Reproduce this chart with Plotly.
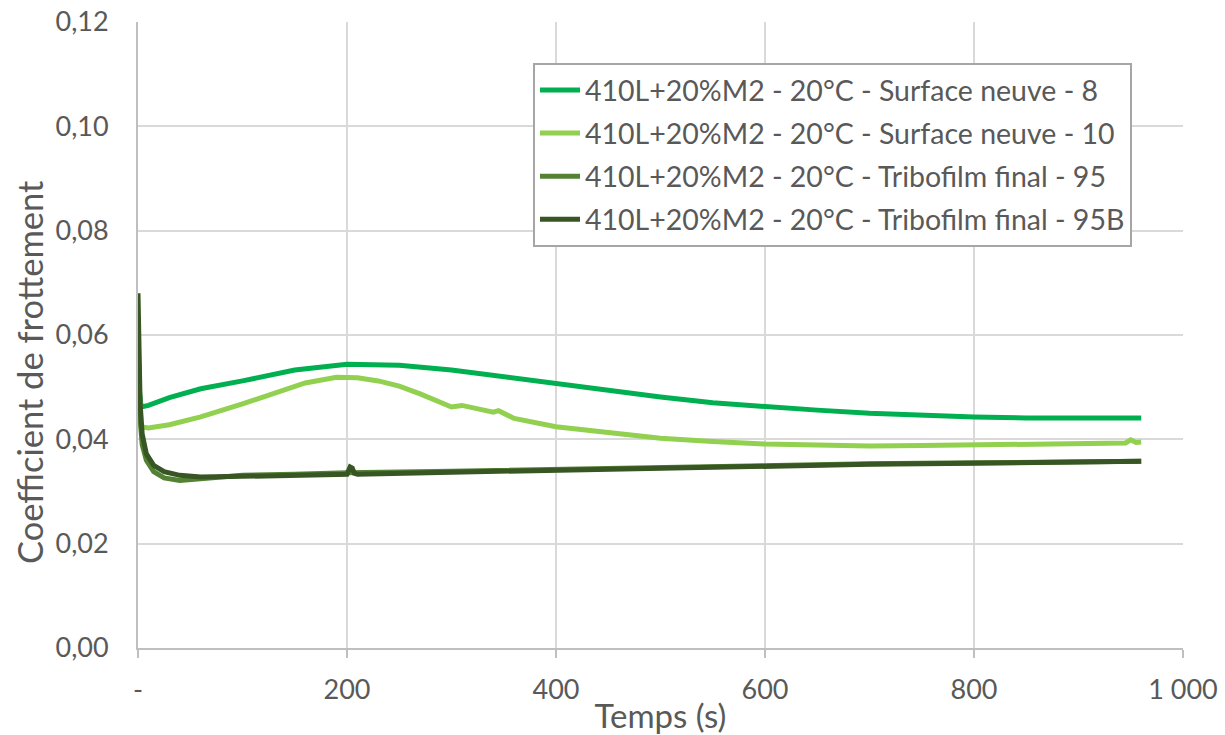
import plotly.graph_objects as go

# ---- data ----
t_s8 = [0, 1, 3, 10, 30, 60, 100, 150, 200, 250, 300, 350, 400, 450, 500, 550,
        600, 650, 700, 750, 800, 850, 900, 960]
cof_s8 = [0.060, 0.050, 0.0462, 0.0465, 0.0480, 0.0497, 0.0512, 0.0533, 0.0544,
          0.0542, 0.0533, 0.0520, 0.0505, 0.0493, 0.0481, 0.0470, 0.0462, 0.0456,
          0.0450, 0.0446, 0.0443, 0.0441, 0.0440, 0.0441]

t_s10 = [0, 1, 3, 10, 30, 60, 100, 130, 160, 190, 210, 230, 250, 270, 290, 300,
         310, 320, 340, 345, 360, 400, 450, 500, 550, 600, 650, 700, 750, 800,
         850, 900, 945, 950, 955, 960]
cof_s10 = [0.064, 0.050, 0.0424, 0.0422, 0.0428, 0.0443, 0.0468, 0.0487, 0.0508,
           0.0519, 0.0518, 0.0512, 0.0502, 0.0487, 0.0470, 0.0462, 0.0465, 0.0460,
           0.0452, 0.0455, 0.0440, 0.0424, 0.0412, 0.0402, 0.0396, 0.0391, 0.0389,
           0.0387, 0.0388, 0.0389, 0.0390, 0.0391, 0.0393, 0.0399, 0.0394, 0.0395]

t_95 = [0, 1, 2, 4, 8, 15, 25, 40, 60, 80, 100, 150, 200, 300, 400, 500, 600,
        700, 800, 900, 960]
cof_95 = [0.060, 0.050, 0.044, 0.039, 0.0360, 0.0338, 0.0326, 0.0321, 0.0324,
          0.0329, 0.0331, 0.0333, 0.0336, 0.0339, 0.0343, 0.0346, 0.0350, 0.0353,
          0.0355, 0.0357, 0.0358]

t_95b = [0, 1, 2, 4, 8, 15, 25, 40, 60, 100, 150, 200, 203, 205, 207, 210, 300,
         400, 500, 600, 700, 800, 900, 960]
cof_95b = [0.068, 0.055, 0.047, 0.041, 0.0372, 0.0350, 0.0338, 0.0331, 0.0328,
           0.0329, 0.0331, 0.0333, 0.0347, 0.0345, 0.0335, 0.0333, 0.0337, 0.0341,
           0.0345, 0.0349, 0.0352, 0.0354, 0.0356, 0.0358]

names = ["410L+20%M2 - 20°C - Surface neuve - 8",
         "410L+20%M2 - 20°C - Surface neuve - 10",
         "410L+20%M2 - 20°C - Tribofilm final - 95",
         "410L+20%M2 - 20°C - Tribofilm final - 95B"]
colors = ["#00B050", "#92D050", "#548235", "#375623"]

x_tickvals = [0, 200, 400, 600, 800, 1000]
x_ticktext = ["-", "200", "400", "600", "800", "1 000"]
y_tickvals = [0, 0.02, 0.04, 0.06, 0.08, 0.10, 0.12]
y_ticktext = ["0,00", "0,02", "0,04", "0,06", "0,08", "0,10", "0,12"]
x_title = "Temps (s)"
y_title = "Coefficient de frottement"

FONT = "Lato"
TXT = "#595959"

fig = go.Figure()
series = [(t_s8, cof_s8), (t_s10, cof_s10), (t_95, cof_95), (t_95b, cof_95b)]
for i, ((tx, ty), nm, col) in enumerate(zip(series, names, colors)):
    fig.add_trace(go.Scatter(x=tx, y=ty, mode="lines", name=nm,
                             legendgroup=f"g{i}",
                             line=dict(color=col, width=5)))

fig.update_layout(
    width=1225, height=735,
    margin=dict(l=138, r=42, t=22, b=87, autoexpand=False),
    paper_bgcolor="white", plot_bgcolor="white",
    font=dict(family=FONT, color=TXT, size=26),
    showlegend=True,
    legend=dict(x=0.378, y=0.9345, xanchor="left", yanchor="top",
                bordercolor="#A6A6A6", borderwidth=2, bgcolor="white",
                font=dict(size=28.5, color=TXT, family=FONT),
                tracegroupgap=3, itemwidth=40),
    xaxis=dict(range=[0, 1000], tickvals=x_tickvals, ticktext=x_ticktext,
               showgrid=True, gridcolor="#D9D9D9", gridwidth=2,
               showline=True, linecolor="#BFBFBF", linewidth=2,
               ticks="outside", ticklen=8, tickcolor="#BFBFBF", tickwidth=2,
               zeroline=False, ticklabelstandoff=9, automargin=False,
               tickfont=dict(size=27),
               title=dict(text=x_title, standoff=0,
                          font=dict(size=33, color=TXT, family=FONT))),
    yaxis=dict(range=[0, 0.12], tickvals=y_tickvals, ticktext=y_ticktext,
               showgrid=True, gridcolor="#D9D9D9", gridwidth=2,
               showline=True, linecolor="#BFBFBF", linewidth=2,
               ticks="", zeroline=False, ticklabelstandoff=22, automargin=False,
               tickfont=dict(size=27)),
    annotations=[dict(text=y_title, textangle=-90, showarrow=False,
                      xref="paper", yref="paper", x=-0.1033, y=0.441,
                      xanchor="center", yanchor="middle",
                      font=dict(size=34.5, color=TXT, family=FONT))],
)

fig.write_html("out.html", config={"displayModeBar": False})

# remove the default page margin so the figure sits exactly in the window
with open("out.html", encoding="utf-8") as f:
    html = f.read()
html = html.replace("<head>", "<head><style>html,body{margin:0;padding:0;overflow:hidden;}</style>", 1)
with open("out.html", "w", encoding="utf-8") as f:
    f.write(html)
